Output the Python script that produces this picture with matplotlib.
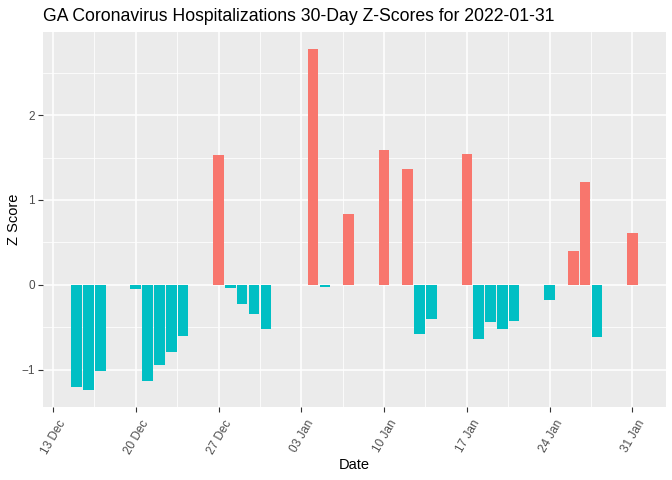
import matplotlib.pyplot as plt
import matplotlib.dates as mdates
from matplotlib.transforms import ScaledTranslation
import numpy as np
import pandas as pd

plt.rcParams['font.family'] = ['Liberation Sans', 'DejaVu Sans']

# 数据：日期与Z分数
dates = ["2021-12-15", "2021-12-16", "2021-12-17", "2021-12-20", "2021-12-21",
         "2021-12-22", "2021-12-23", "2021-12-24", "2021-12-27", "2021-12-28",
         "2021-12-29", "2021-12-30", "2021-12-31", "2022-01-04", "2022-01-05",
         "2022-01-07", "2022-01-10", "2022-01-12", "2022-01-13", "2022-01-14",
         "2022-01-17", "2022-01-18", "2022-01-19", "2022-01-20", "2022-01-21",
         "2022-01-24", "2022-01-26", "2022-01-27", "2022-01-28", "2022-01-31"]
zscores = [-1.20, -1.24, -1.02, -0.05, -1.14,
           -0.95, -0.79, -0.60, 1.53, -0.035,
           -0.225, -0.34, -0.52, 2.78, -0.025,
           0.84, 1.585, 1.36, -0.58, -0.40,
           1.54, -0.64, -0.44, -0.52, -0.43,
           -0.18, 0.40, 1.21, -0.615, 0.615]
tick_dates = ["2021-12-13", "2021-12-20", "2021-12-27", "2022-01-03",
              "2022-01-10", "2022-01-17", "2022-01-24", "2022-01-31"]

d = mdates.date2num(pd.to_datetime(dates))
z = np.array(zscores)
ticks = mdates.date2num(pd.to_datetime(tick_dates))
colors = np.where(z > 0, '#F8766D', '#00BFC4')

fig = plt.figure(figsize=(6.72, 4.8), dpi=100)
ax = fig.add_axes([43/672, 1-407/480, (666-43)/672, (407-32)/480])
ax.set_facecolor('#EBEBEB')

ax.bar(d, z, width=0.9, color=colors, zorder=3)

# 坐标范围（ggplot 的 5% 扩展）
x0, x1 = d.min()-0.45, d.max()+0.45
ex = (x1-x0)*0.05
ax.set_xlim(x0-ex, x1+ex)
y0, y1 = z.min(), z.max()
ey = (y1-y0)*0.05
ax.set_ylim(y0-ey, y1+ey)

ax.set_xticks(ticks)
ax.set_xticklabels([pd.to_datetime(t).strftime('%d %b') for t in tick_dates],
                   rotation=60, ha='right', rotation_mode='anchor')
ax.set_xticks(ticks[:-1]+3.5, minor=True)
ax.set_yticks([-1, 0, 1, 2])
ax.set_yticks([-0.5, 0.5, 1.5, 2.5], minor=True)

ax.grid(which='major', color='white', linewidth=1.1, zorder=0)
ax.grid(which='minor', color='white', linewidth=0.55, zorder=0)
ax.set_axisbelow(True)
for s in ax.spines.values():
    s.set_visible(False)
ax.tick_params(which='major', length=3.7, width=0.8, color='#333333',
               labelcolor='#4D4D4D', labelsize=8.45, pad=2)
ax.tick_params(which='minor', length=0)

# 旋转标签稍微右移
off = ScaledTranslation(5/100, -3/100, fig.dpi_scale_trans)
for lab in ax.get_xticklabels():
    lab.set_transform(lab.get_transform() + off)

ax.set_xlabel('Date', fontsize=10.5)
ax.xaxis.set_label_coords(0.5, -51/375)
ax.set_ylabel('Z Score', fontsize=10.5)
ax.yaxis.set_label_coords(-22/623, 0.5)
ax.set_title('GA Coronavirus Hospitalizations 30-Day Z-Scores for 2022-01-31',
             loc='left', fontsize=12.7, pad=8)

fig.savefig('out.png', dpi=100)
